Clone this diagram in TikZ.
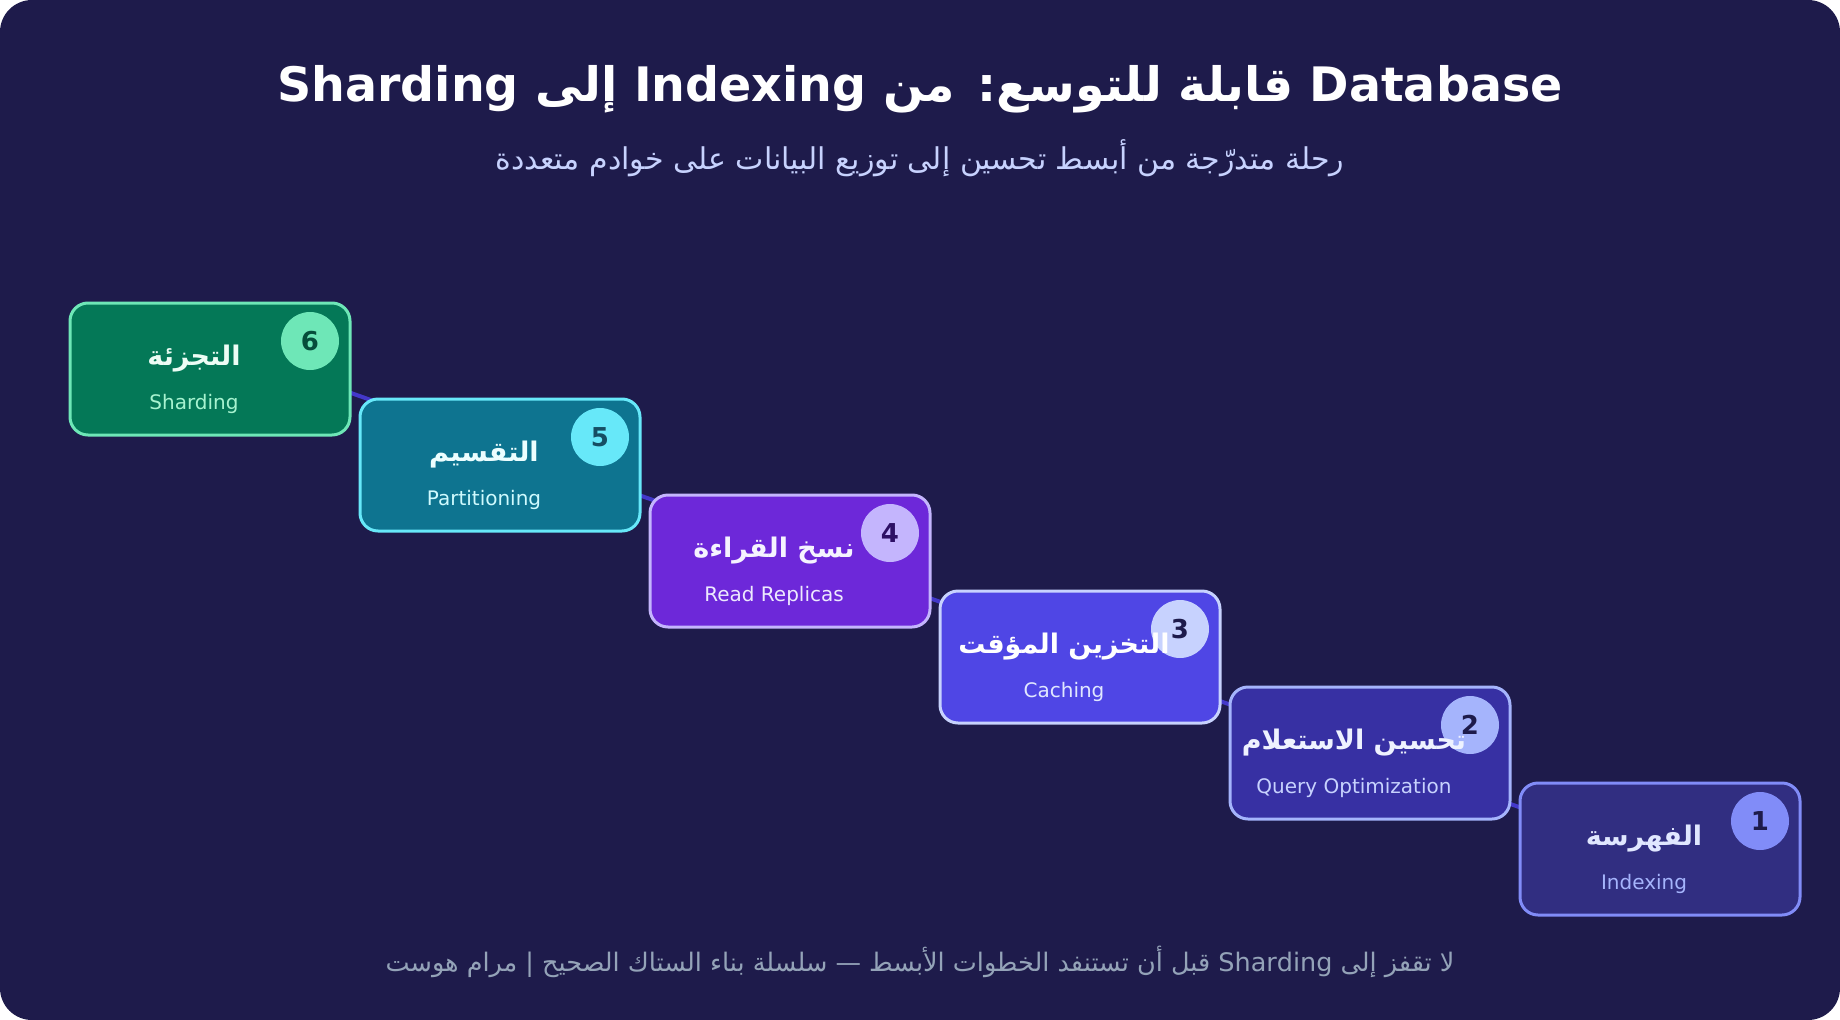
\documentclass[tikz,border=0pt]{standalone}
\usepackage{fontspec}
\setmainfont{DejaVu Sans}
\newfontfamily\arabicfont[Script=Arabic]{DejaVu Sans}
\TeXXeTstate=1
\usetikzlibrary{calc}
\usetikzlibrary{backgrounds}

\definecolor{bgc}{HTML}{1E1B4B}
\definecolor{linkc}{HTML}{4338CA}
\definecolor{titlec}{HTML}{FFFFFF}
\definecolor{subc}{HTML}{C7D2FE}
\definecolor{footc}{HTML}{94A3B8}
% step colours: fill, border/badge, title, english, digit
\definecolor{fillsix}{HTML}{047857}\definecolor{linesix}{HTML}{6EE7B7}
\definecolor{arsix}{HTML}{ECFDF5}\definecolor{ensix}{HTML}{A7F3D0}\definecolor{numsix}{HTML}{064E3B}
\definecolor{fillfive}{HTML}{0E7490}\definecolor{linefive}{HTML}{67E8F9}
\definecolor{arfive}{HTML}{ECFEFF}\definecolor{enfive}{HTML}{CFFAFE}\definecolor{numfive}{HTML}{164E63}
\definecolor{fillfour}{HTML}{6D28D9}\definecolor{linefour}{HTML}{C4B5FD}
\definecolor{arfour}{HTML}{F5F3FF}\definecolor{enfour}{HTML}{EDE9FE}\definecolor{numfour}{HTML}{2E1065}
\definecolor{fillthree}{HTML}{4F46E5}\definecolor{linethree}{HTML}{C7D2FE}
\definecolor{arthree}{HTML}{FFFFFF}\definecolor{enthree}{HTML}{E0E7FF}\definecolor{numthree}{HTML}{1E1B4B}
\definecolor{filltwo}{HTML}{3730A3}\definecolor{linetwo}{HTML}{A5B4FC}
\definecolor{artwo}{HTML}{EEF2FF}\definecolor{entwo}{HTML}{C7D2FE}\definecolor{numtwo}{HTML}{1E1B4B}
\definecolor{fillone}{HTML}{312E81}\definecolor{lineone}{HTML}{818CF8}
\definecolor{arone}{HTML}{E0E7FF}\definecolor{enone}{HTML}{A5B4FC}\definecolor{numone}{HTML}{1E1B4B}

\tikzset{
  stepbox/.style={draw, line width=3pt, rounded corners=18pt, minimum width=280pt, minimum height=132pt, inner sep=0pt},
  badge/.style={circle, minimum size=58pt, inner sep=0pt},
  arlabel/.style={inner sep=0pt, font=\arabicfont\bfseries\fontsize{27}{32}\selectfont},
  enlabel/.style={inner sep=0pt, font=\fontsize{20}{24}\selectfont},
  numlabel/.style={inner sep=0pt, font=\bfseries\fontsize{26}{30}\selectfont},
  link/.style={draw=linkc, line width=4pt}
}

\begin{document}
\begin{tikzpicture}[x=1pt, y=1pt]
\useasboundingbox (0,0) rectangle (1840,-1020);

% heading
\node[text=titlec, font=\arabicfont\bfseries\fontsize{47.5}{56}\selectfont] (title) at (920,-89)
  {\beginR\beginL Database\endL{} قابلة للتوسع: من \beginL Indexing\endL{} إلى \beginL Sharding\endL\endR};
\node[text=subc, font=\arabicfont\fontsize{30}{36}\selectfont] (subtitle) at (920,-158)
  {\beginR رحلة متدرّجة من أبسط تحسين إلى توزيع البيانات على خوادم متعددة\endR};

% step 6
\coordinate (O) at (210,-369);
\node[stepbox, draw=linesix, fill=fillsix] (s6) at (O) {};
\node[badge, fill=linesix] (b6) at ($(O)+(100,28)$) {};
\node[arlabel, text=arsix] (a6) at ($(O)+(-16,10)$) {\beginR التجزئة\endR};
\node[enlabel, text=ensix] (e6) at ($(O)+(-16,-35)$) {Sharding};
\node[numlabel, text=numsix] (n6) at (b6) {6};

% step 5
\coordinate (O) at (500,-465);
\node[stepbox, draw=linefive, fill=fillfive] (s5) at (O) {};
\node[badge, fill=linefive] (b5) at ($(O)+(100,28)$) {};
\node[arlabel, text=arfive] (a5) at ($(O)+(-16,10)$) {\beginR التقسيم\endR};
\node[enlabel, text=enfive] (e5) at ($(O)+(-16,-35)$) {Partitioning};
\node[numlabel, text=numfive] (n5) at (b5) {5};

% step 4
\coordinate (O) at (790,-561);
\node[stepbox, draw=linefour, fill=fillfour] (s4) at (O) {};
\node[badge, fill=linefour] (b4) at ($(O)+(100,28)$) {};
\node[arlabel, text=arfour] (a4) at ($(O)+(-16,10)$) {\beginR نسخ القراءة\endR};
\node[enlabel, text=enfour] (e4) at ($(O)+(-16,-35)$) {Read Replicas};
\node[numlabel, text=numfour] (n4) at (b4) {4};

% step 3
\coordinate (O) at (1080,-657);
\node[stepbox, draw=linethree, fill=fillthree] (s3) at (O) {};
\node[badge, fill=linethree] (b3) at ($(O)+(100,28)$) {};
\node[arlabel, text=arthree] (a3) at ($(O)+(-16,10)$) {\beginR التخزين المؤقت\endR};
\node[enlabel, text=enthree] (e3) at ($(O)+(-16,-35)$) {Caching};
\node[numlabel, text=numthree] (n3) at (b3) {3};

% step 2
\coordinate (O) at (1370,-753);
\node[stepbox, draw=linetwo, fill=filltwo] (s2) at (O) {};
\node[badge, fill=linetwo] (b2) at ($(O)+(100,28)$) {};
\node[arlabel, text=artwo] (a2) at ($(O)+(-16,10)$) {\beginR تحسين الاستعلام\endR};
\node[enlabel, text=entwo] (e2) at ($(O)+(-16,-35)$) {Query Optimization};
\node[numlabel, text=numtwo] (n2) at (b2) {2};

% step 1
\coordinate (O) at (1660,-849);
\node[stepbox, draw=lineone, fill=fillone] (s1) at (O) {};
\node[badge, fill=lineone] (b1) at ($(O)+(100,28)$) {};
\node[arlabel, text=arone] (a1) at ($(O)+(-16,10)$) {\beginR الفهرسة\endR};
\node[enlabel, text=enone] (e1) at ($(O)+(-16,-35)$) {Indexing};
\node[numlabel, text=numone] (n1) at (b1) {1};

% footer
\node[text=footc, font=\arabicfont\fontsize{25.5}{30}\selectfont] (footer) at (920,-962)
  {\beginR لا تقفز إلى \beginL Sharding\endL{} قبل أن تستنفد الخطوات الأبسط — سلسلة بناء الستاك الصحيح | مرام هوست\endR};

% card and the line behind the steps
\begin{scope}[on background layer]
\fill[white] (0,0) rectangle (1840,-1020);
\fill[bgc, rounded corners=32pt] (0,0) rectangle (1840,-1020);
\draw[link] ([yshift=26pt]s6.center) -- ([yshift=-8pt]s1.center);
\end{scope}

\end{tikzpicture}
\end{document}
